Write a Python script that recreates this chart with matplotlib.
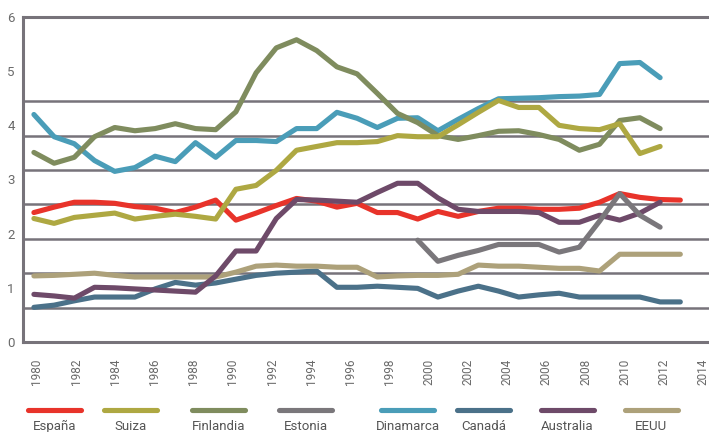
import matplotlib
matplotlib.use("Agg")
import matplotlib.pyplot as plt
from matplotlib.lines import Line2D
import numpy as np

plt.rcParams['font.family'] = ['Roboto', 'DejaVu Sans']

# Data
years_full = np.arange(1980, 2013)      # 1980-2012
years_short = np.arange(1980, 2012)     # 1980-2011
years_est = np.arange(1999, 2012)       # 1999-2011

espana = [2.39, 2.49, 2.58, 2.58, 2.56, 2.50, 2.47, 2.39, 2.49, 2.62,
          2.25, 2.38, 2.52, 2.65, 2.60, 2.49, 2.56, 2.39, 2.39, 2.27,
          2.41, 2.32, 2.41, 2.47, 2.47, 2.45, 2.45, 2.47, 2.58, 2.74,
          2.67, 2.63, 2.62]
suiza = [2.28, 2.19, 2.30, 2.34, 2.38, 2.27, 2.32, 2.36, 2.32, 2.27,
         2.82, 2.89, 3.17, 3.54, 3.61, 3.68, 3.68, 3.70, 3.81, 3.79,
         3.79, 4.01, 4.24, 4.46, 4.33, 4.33, 4.00, 3.94, 3.92, 4.03,
         3.48, 3.61]
finlandia = [3.50, 3.30, 3.41, 3.79, 3.96, 3.90, 3.94, 4.03, 3.94, 3.92,
             4.25, 4.97, 5.43, 5.58, 5.38, 5.08, 4.95, 4.59, 4.22, 4.05,
             3.81, 3.74, 3.81, 3.89, 3.90, 3.83, 3.74, 3.54, 3.65, 4.09,
             4.14, 3.94]
estonia = [1.88, 1.49, 1.60, 1.69, 1.80, 1.80, 1.80, 1.66, 1.75, 2.23,
           2.74, 2.34, 2.12]
dinamarca = [4.20, 3.79, 3.66, 3.35, 3.15, 3.22, 3.43, 3.33, 3.68, 3.41,
             3.72, 3.72, 3.70, 3.94, 3.94, 4.24, 4.13, 3.96, 4.13, 4.14,
             3.90, 4.11, 4.31, 4.49, 4.50, 4.51, 4.53, 4.54, 4.57, 5.14,
             5.16, 4.88]
canada = [0.64, 0.68, 0.76, 0.83, 0.83, 0.83, 0.98, 1.10, 1.05, 1.09,
          1.16, 1.23, 1.27, 1.29, 1.31, 1.01, 1.01, 1.03, 1.01, 0.99,
          0.83, 0.94, 1.03, 0.94, 0.83, 0.87, 0.90, 0.83, 0.83, 0.83,
          0.83, 0.74, 0.74]
australia = [0.88, 0.85, 0.81, 1.01, 1.00, 0.98, 0.96, 0.94, 0.92, 1.22,
             1.68, 1.68, 2.28, 2.63, 2.62, 2.60, 2.58, 2.76, 2.93, 2.93,
             2.66, 2.45, 2.41, 2.41, 2.41, 2.39, 2.21, 2.21, 2.34, 2.25,
             2.38, 2.58]
eeuu = [1.22, 1.23, 1.25, 1.27, 1.23, 1.20, 1.20, 1.20, 1.20, 1.20,
        1.29, 1.40, 1.42, 1.40, 1.40, 1.38, 1.38, 1.20, 1.22, 1.23,
        1.23, 1.25, 1.42, 1.40, 1.40, 1.38, 1.36, 1.36, 1.31, 1.62,
        1.62, 1.62, 1.62]

label_years = np.arange(1980, 2015, 2)

# name, x, y, colour  (legend order)
series = [
    ('España', years_full, espana, '#e8332a'),
    ('Suiza', years_short, suiza, '#aea842'),
    ('Finlandia', years_short, finlandia, '#7f8c5e'),
    ('Estonia', years_est, estonia, '#7a777b'),
    ('Dinamarca', years_short, dinamarca, '#4a9db8'),
    ('Canadá', years_full, canada, '#4b7189'),
    ('Australia', years_short, australia, '#6e4a69'),
    ('EEUU', years_full, eeuu, '#ada17a'),
]
draw_order = ['Dinamarca', 'Finlandia', 'España', 'Canadá', 'EEUU', 'Australia', 'Estonia', 'Suiza']

W, H = 709, 432
fig = plt.figure(figsize=(W / 100, H / 100), dpi=100)
ax = fig.add_axes([23 / W, 90 / H, 686 / W, 325 / H])

grid_col = '#77737a'
for name, x, y, col in series:
    ax.plot(x, y, color=col, lw=3.7, solid_capstyle='round', solid_joinstyle='round',
            zorder=3 + draw_order.index(name))

# horizontal rules (they don't line up with the tick labels in the original)
for v in np.arange(1, 8) * 0.635:
    ax.axhline(v, color=grid_col, lw=1.8, zorder=1)

ax.set_xlim(1979.46, 2013.42)
ax.set_ylim(0, 6)

for side in ['left', 'bottom', 'top']:
    ax.spines[side].set_color(grid_col)
    ax.spines[side].set_linewidth(2.2)
ax.spines['right'].set_visible(False)

ax.set_yticks(range(7))
ax.tick_params(axis='y', length=0, pad=6, labelcolor='#6a6a6a', labelsize=9.5)

# year labels are spaced slightly tighter than the data in the original
ax.set_xticks(1980.15 + (label_years - 1980) * 0.97, [str(y) for y in label_years], rotation=90)
ax.tick_params(axis='x', length=0, pad=12, labelcolor='#6a6a6a', labelsize=8.5)

# legend drawn by hand: line sample with text centred underneath
leg_x = [25, 101, 189, 276, 378, 454, 538, 622]
for (name, _, _, col), x0 in zip(series, leg_x):
    fig.add_artist(Line2D([(x0 + 3) / W, (x0 + 56) / W], [22 / H, 22 / H], color=col, lw=3.7,
                          solid_capstyle='round', transform=fig.transFigure))
    fig.text((x0 + 29.5) / W, 6 / H, name, ha='center', va='center', fontsize=9.5, color='#555555')

plt.savefig('out.png', dpi=100)
